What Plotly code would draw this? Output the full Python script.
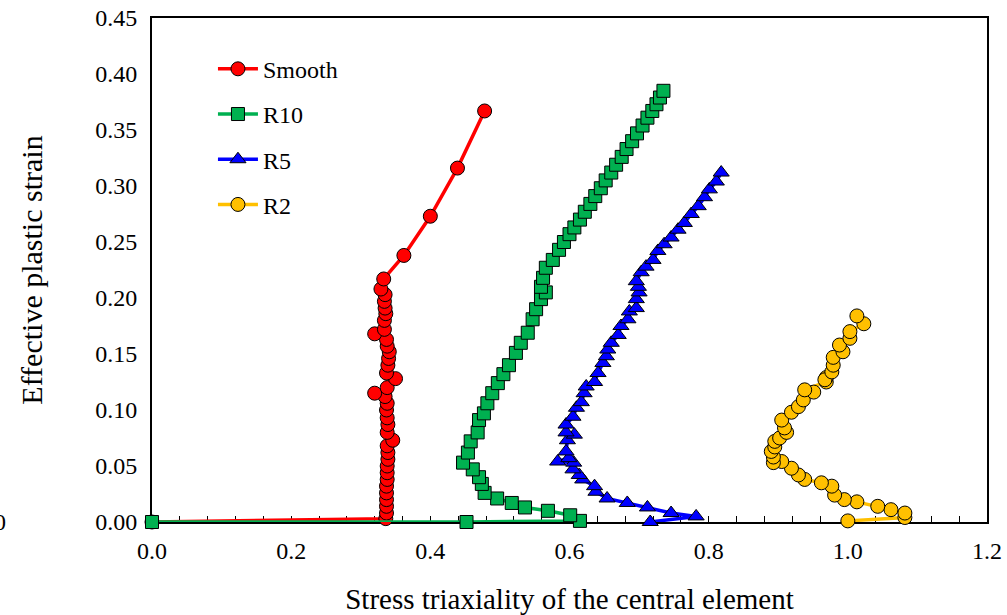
import plotly.graph_objects as go

# Stress triaxiality (x) and effective plastic strain (y) at the central element
smooth_x = [0.000, 0.336, 0.337, 0.337, 0.337, 0.337, 0.337, 0.338, 0.338, 0.338, 0.339,
            0.339, 0.338, 0.346, 0.338, 0.339, 0.338, 0.337, 0.338, 0.335, 0.320, 0.338,
            0.350, 0.337, 0.339, 0.340, 0.341, 0.338, 0.337, 0.320, 0.334, 0.334, 0.336,
            0.335, 0.334, 0.335, 0.329, 0.333, 0.362, 0.400, 0.439, 0.478]
smooth_y = [0.000, 0.003, 0.008, 0.014, 0.020, 0.026, 0.032, 0.038, 0.044, 0.050, 0.056,
            0.062, 0.068, 0.073, 0.080, 0.087, 0.093, 0.100, 0.106, 0.112, 0.115, 0.120,
            0.128, 0.133, 0.140, 0.146, 0.152, 0.157, 0.163, 0.168, 0.172, 0.180, 0.186,
            0.191, 0.197, 0.203, 0.208, 0.217, 0.238, 0.273, 0.316, 0.367]

r10_x = [0.000, 0.452, 0.615, 0.601, 0.569, 0.536, 0.517, 0.496, 0.478, 0.474, 0.470,
         0.461, 0.447, 0.454, 0.458, 0.468, 0.470, 0.477, 0.482, 0.489, 0.497, 0.505,
         0.513, 0.523, 0.530, 0.540, 0.547, 0.552, 0.559, 0.566, 0.559, 0.562, 0.566,
         0.576, 0.585, 0.592, 0.600, 0.607, 0.615, 0.622, 0.630, 0.637, 0.645, 0.652,
         0.660, 0.667, 0.675, 0.682, 0.690, 0.697, 0.705, 0.712, 0.719, 0.725, 0.730,
         0.735]
r10_y = [0.000, 0.000, 0.001, 0.006, 0.010, 0.013, 0.017, 0.021, 0.026, 0.034, 0.040,
         0.047, 0.053, 0.062, 0.072, 0.080, 0.091, 0.097, 0.106, 0.115, 0.124, 0.132,
         0.140, 0.151, 0.160, 0.169, 0.181, 0.190, 0.199, 0.205, 0.210, 0.218, 0.227,
         0.234, 0.243, 0.250, 0.257, 0.263, 0.270, 0.277, 0.284, 0.291, 0.298, 0.305,
         0.312, 0.319, 0.326, 0.333, 0.340, 0.347, 0.354, 0.361, 0.367, 0.373, 0.379,
         0.385]

r5_x = [0.716, 0.782, 0.746, 0.712, 0.683, 0.654, 0.638, 0.636, 0.619, 0.614, 0.605,
        0.606, 0.583, 0.599, 0.595, 0.597, 0.607, 0.595, 0.595, 0.605, 0.610, 0.617,
        0.621, 0.624, 0.636, 0.641, 0.648, 0.653, 0.655, 0.660, 0.670, 0.674, 0.684,
        0.686, 0.696, 0.696, 0.700, 0.699, 0.696, 0.703, 0.710, 0.720, 0.727, 0.736,
        0.746, 0.756, 0.765, 0.775, 0.785, 0.794, 0.801, 0.811, 0.818]
r5_y = [0.000, 0.005, 0.008, 0.013, 0.017, 0.021, 0.027, 0.032, 0.038, 0.042, 0.047,
        0.053, 0.054, 0.057, 0.063, 0.073, 0.078, 0.080, 0.087, 0.094, 0.102, 0.107,
        0.115, 0.121, 0.125, 0.133, 0.142, 0.148, 0.154, 0.160, 0.167, 0.175, 0.181,
        0.188, 0.191, 0.199, 0.205, 0.210, 0.215, 0.223, 0.228, 0.234, 0.242, 0.248,
        0.254, 0.261, 0.267, 0.275, 0.282, 0.290, 0.297, 0.304, 0.312]

r2_x = [1.000, 1.082, 1.082, 1.062, 1.043, 1.013, 0.995, 0.981, 0.977, 0.962, 0.938,
        0.929, 0.919, 0.905, 0.893, 0.893, 0.890, 0.895, 0.895, 0.902, 0.912, 0.909,
        0.905, 0.919, 0.929, 0.936, 0.951, 0.938, 0.969, 0.969, 0.967, 0.977, 0.979,
        0.979, 0.993, 0.988, 1.003, 1.003, 1.023, 1.013]
r2_y = [0.001, 0.004, 0.008, 0.011, 0.014, 0.018, 0.020, 0.024, 0.032, 0.035, 0.038,
        0.042, 0.048, 0.054, 0.053, 0.058, 0.063, 0.067, 0.072, 0.075, 0.080, 0.084,
        0.091, 0.098, 0.103, 0.109, 0.116, 0.118, 0.125, 0.129, 0.127, 0.134, 0.140,
        0.147, 0.152, 0.158, 0.164, 0.170, 0.177, 0.184]

series = [
    ("Smooth", smooth_x, smooth_y, "#FF0000", "circle", 14),
    ("R10", r10_x, r10_y, "#00B050", "square", 13),
    ("R5", r5_x, r5_y, "#0000FF", "triangle-up", 14),
    ("R2", r2_x, r2_y, "#FFC000", "circle", 14),
]

FONT = "Liberation Serif, Times New Roman, serif"

fig = go.Figure()
for i, (name, xs, ys, color, symbol, size) in enumerate(series):
    fig.add_trace(go.Scatter(
        x=xs, y=ys, name=name, mode="lines+markers",
        legendgroup=name, cliponaxis=False,
        line=dict(color=color, width=3.5),
        marker=dict(symbol=symbol, size=size, color=color,
                    line=dict(color="#000000", width=1)),
    ))

fig.update_layout(
    width=1007, height=615,
    margin=dict(l=152, r=20, t=18, b=93, autoexpand=False),
    paper_bgcolor="white", plot_bgcolor="white",
    font=dict(family=FONT, size=24, color="#000000"),
    showlegend=True,
    legend=dict(x=0.073, y=0.943, xanchor="left", yanchor="top",
                bgcolor="rgba(0,0,0,0)", font=dict(size=24),
                tracegroupgap=11, itemwidth=40),
    xaxis=dict(range=[0, 1.2], tickvals=[0, 0.2, 0.4, 0.6, 0.8, 1.0, 1.2],
               tickformat=".1f", showgrid=False, zeroline=False, automargin=False,
               showline=True, linecolor="#000000", linewidth=2, mirror=True,
               layer="below traces", ticks="inside", ticklen=6,
               tickcolor="#000000", ticklabelstandoff=6,
               title=dict(text="Stress triaxiality of the central element",
                          font=dict(size=29), standoff=30),
               minor=dict(ticks="inside", ticklen=6, tickcolor="#000000",
                          dtick=0.04, tick0=0)),
    yaxis=dict(range=[0, 0.45], dtick=0.05, tickformat=".2f", showgrid=False,
               zeroline=False, showline=True, linecolor="#000000", linewidth=2,
               mirror=True, layer="below traces", ticks="", ticklabelstandoff=8,
               automargin=False,
               title=dict(text="Effective plastic strain", font=dict(size=30),
                          standoff=44)),
)

# Partially visible label at the left page edge
fig.add_annotation(text="0", xref="paper", yref="y", x=(8 - 152) / 835, y=0,
                   xanchor="right", yanchor="middle", showarrow=False,
                   font=dict(size=24, family=FONT))

fig.write_html("out.html")
